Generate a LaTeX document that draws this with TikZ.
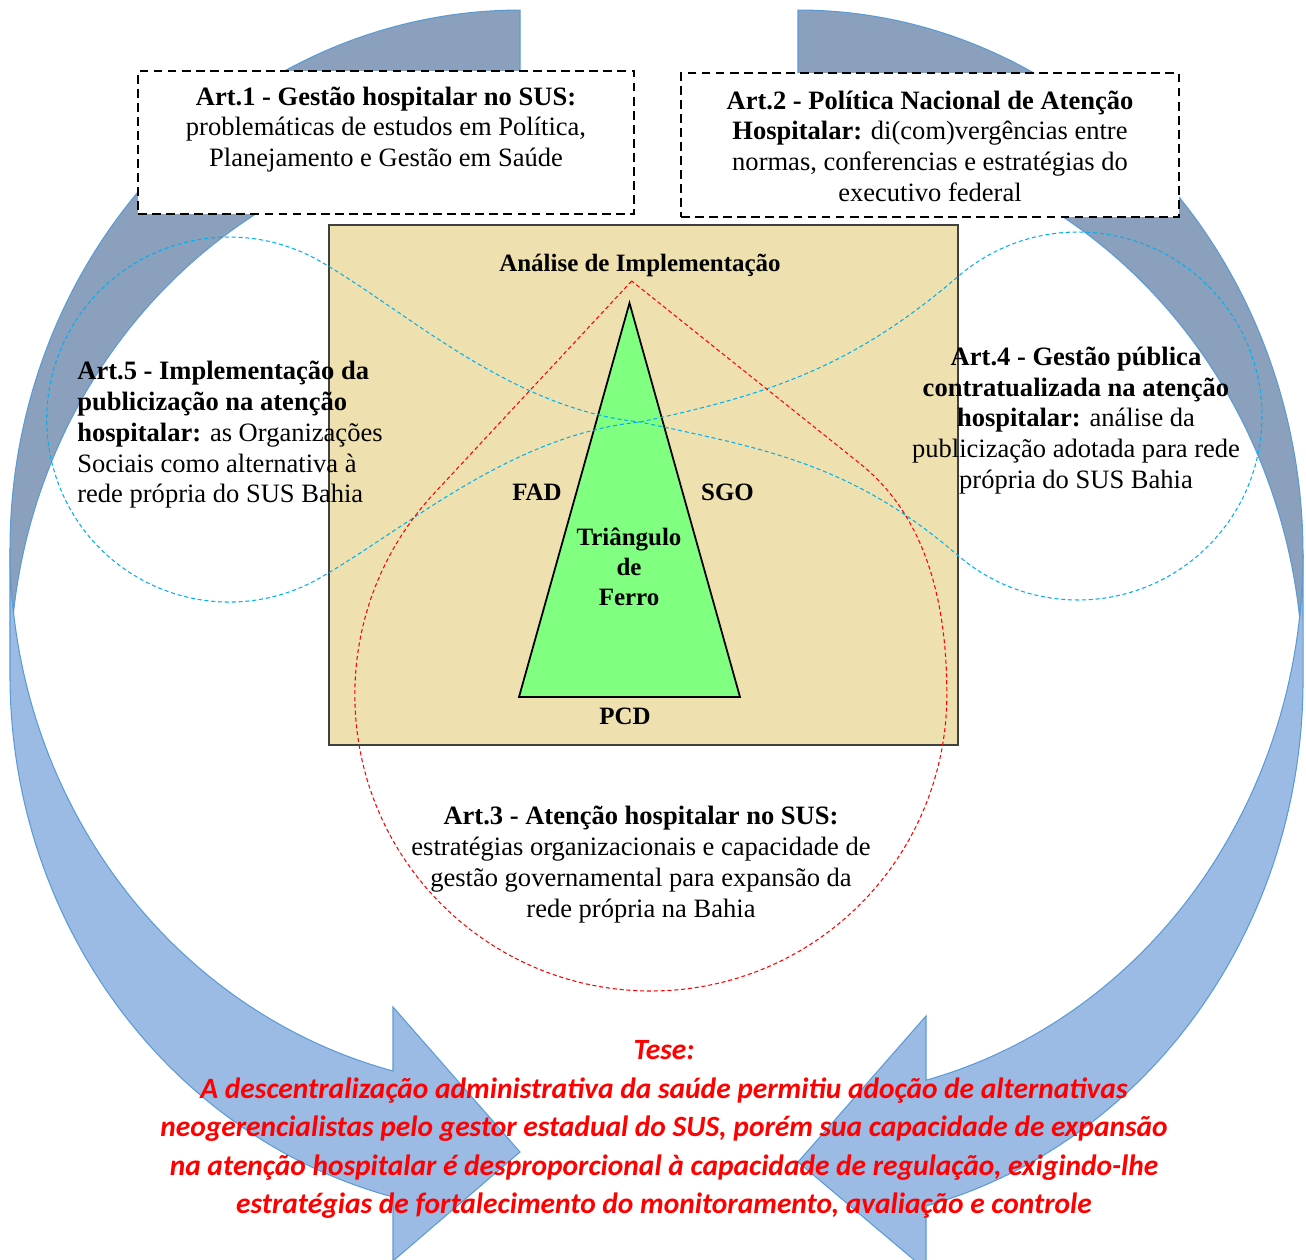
\documentclass[tikz,border=0pt]{standalone}
\usepackage{fontspec}
\setmainfont{Liberation Serif}
\newfontfamily\calibri{Carlito}
\usetikzlibrary{positioning}
\definecolor{arrowdark}{HTML}{8AA0BC}
\definecolor{arrowlight}{HTML}{9BBBE4}
\definecolor{arrowedge}{HTML}{5B9BD5}
\definecolor{frametan}{HTML}{EEE1AF}
\definecolor{frameedge}{HTML}{404040}
\definecolor{irongreen}{HTML}{80FF80}
\definecolor{loopcyan}{HTML}{00B0F0}

\begin{document}
\begin{tikzpicture}[
  x=0.02cm, y=0.02cm,
  armlight/.style={fill=arrowlight, draw=arrowedge, line width=0.6pt},
  armdark/.style={fill=arrowdark, draw=arrowedge, line width=0.6pt},
  artbox/.style={rectangle, draw=black, fill=white, line width=1.5pt,
                 dash pattern=on 5pt off 3pt},
  frame/.style={rectangle, draw=frameedge, fill=frametan, line width=1.4pt,
                minimum width=12.58cm, minimum height=10.4cm},
  arttxt/.style={inner sep=0pt, align=center, font=\fontsize{15.1}{17.5}\selectfont},
  lbl/.style={inner sep=0pt, align=center, font=\fontsize{14.2}{17}\selectfont\bfseries},
  tese/.style={inner sep=0pt, align=center, text=red,
               font=\calibri\fontsize{16.75}{21.9}\selectfont\bfseries\itshape},
  loop/.style={draw=loopcyan, line width=0.6pt, dash pattern=on 2.3pt off 1.6pt},
  drop/.style={draw=red, line width=0.6pt, dash pattern=on 2.3pt off 1.6pt},
]
  \useasboundingbox (0,0) rectangle (1306,-1259);

  % Left curved arrow
  \path[armlight] (10,-549) arc[start angle=180, end angle=255.58, x radius=510, y radius=539]
    -- (393,-1007) -- (520,-1152) -- (393,-1261) -- (393,-1197)
    arc[start angle=255.58, end angle=180, x radius=510, y radius=539] -- cycle;
  \path[armdark] (520,-136) arc[start angle=90, end angle=173.29, x radius=510, y radius=539]
    arc[start angle=186.71, end angle=90, x radius=510, y radius=539] -- cycle;
  % Right curved arrow
  \path[armlight] (1303,-554) arc[start angle=0, end angle=-75.32, x radius=505, y radius=544]
    -- (926,-1016) -- (798,-1162) -- (926,-1270) -- (926,-1206)
    arc[start angle=-75.32, end angle=0, x radius=505, y radius=544] -- cycle;
  \path[armdark] (798,-136) arc[start angle=90, end angle=6.65, x radius=505, y radius=544]
    arc[start angle=-6.65, end angle=90, x radius=505, y radius=544] -- cycle;

  % Article boxes
  \node[artbox, minimum width=9.92cm, minimum height=2.86cm] (art1) at (386,-142.5) {};
  \node[artbox, minimum width=9.96cm, minimum height=2.88cm] (art2) at (930,-145) {};
  \node[arttxt, below=0.33cm of art1.north] (art1txt)
    {\textbf{Art.1 - Gestão hospitalar no SUS:}\\
     problemáticas de estudos em Política,\\
     Planejamento e Gestão em Saúde};
  \node[arttxt, below=0.37cm of art2.north] (art2txt)
    {\textbf{Art.2 - Política Nacional de Atenção}\\
     \textbf{Hospitalar:} di(com)vergências entre\\
     normas, conferencias e estratégias do\\
     executivo federal};

  % Implementation frame and iron triangle
  \node[frame] (frame) at (643.5,-485) {};
  \coordinate (apex) at (629.5,-303);
  \coordinate (baseL) at (519,-697);
  \coordinate (baseR) at (740,-697);
  \draw[fill=irongreen, line width=1pt] (apex) -- (baseL) -- (baseR) -- cycle;

  % Dashed loops
  \coordinate (cross) at (640,-422);
  \path[loop] (cross) .. controls (767,-395) and (852,-367.8) .. (958,-276.5)
    arc[start angle=130.7, end angle=-130.7, radius=184]
    .. controls (852,-464.2) and (767,-449) .. (cross)
    .. controls (511,-409) and (407,-311.5) .. (320.5,-261.5)
    arc[start angle=60, end angle=300, radius=182.5]
    .. controls (407.4,-527.5) and (511,-435) .. (cross);
  \coordinate (tip) at (631.7,-281);
  \path[drop] (tip) -- (434,-493.5) arc[start angle=137.1, end angle=360, radius=296]
    .. controls (947,-595) and (922.5,-513.6) .. (860,-463.6) -- cycle;

  % Frame labels
  \node[lbl, anchor=base] (ana) at (640,-271) {Análise de Implementação};
  \node[lbl, anchor=base] (fad) at (537,-500) {FAD};
  \node[lbl, anchor=base] (sgo) at (727.5,-500) {SGO};
  \node[lbl] (tri) at (629,-567) {Triângulo\\de\\Ferro};
  \node[lbl, anchor=base] (pcd) at (625,-724) {PCD};

  % Article texts
  \node[arttxt, align=left, anchor=west] (art5) at (77,-435)
    {\textbf{Art.5 - Implementação da}\\
     \textbf{publicização na atenção}\\
     \textbf{hospitalar:} as Organizações\\
     Sociais como alternativa à\\
     rede própria do SUS Bahia};
  \node[arttxt] (art4) at (1076,-420.5)
    {\textbf{Art.4 - Gestão pública}\\
     \textbf{contratualizada na atenção}\\
     \textbf{hospitalar:} análise da\\
     publicização adotada para rede\\
     própria do SUS Bahia};
  \node[arttxt] (art3) at (641,-864.5)
    {\textbf{Art.3 - Atenção hospitalar no SUS:}\\
     estratégias organizacionais e capacidade de\\
     gestão governamental para expansão da\\
     rede própria na Bahia};

  % Thesis
  \node[tese] (tese) at (664,-1129.5)
    {Tese:\\
     A descentralização administrativa da saúde permitiu adoção de alternativas\\
     neogerencialistas pelo gestor estadual do SUS, porém sua capacidade de expansão\\
     na atenção hospitalar é desproporcional à capacidade de regulação, exigindo-lhe\\
     estratégias de fortalecimento do monitoramento, avaliação e controle};
\end{tikzpicture}
\end{document}
